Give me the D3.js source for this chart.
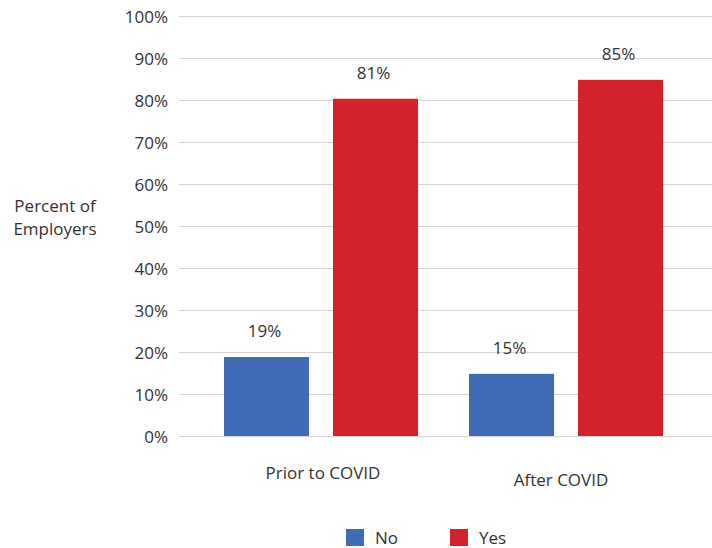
<!DOCTYPE html>
<html><head><meta charset="utf-8">
<script src="https://cdn.jsdelivr.net/npm/d3@7"></script>
<style>
body{margin:0;background:#fff;}
svg text{font-family:"Open Sans",sans-serif;fill:#333;}
</style></head>
<body><svg id="c" width="712" height="548"></svg>
<script>
const categories = ["Prior to COVID", "After COVID"];
const seriesNames = ["No", "Yes"];
const noValues = [18.8, 14.8];
const yesValues = [80.3, 84.8];
const noLabels = ["19%", "15%"];
const yesLabels = ["81%", "85%"];
const yTicks = [0,10,20,30,40,50,60,70,80,90,100];
const colors = ["#3F6CB4", "#D2232A"];

const svg = d3.select("#c");
const y = d3.scaleLinear().domain([0,100]).range([436,16]);
const x0 = d3.scaleBand().domain(categories).range([198.5,688.5]).paddingInner(0).paddingOuter(0);
const x1 = d3.scaleBand().domain(seriesNames).range([0, x0.bandwidth()]).paddingInner(0.22).paddingOuter(0.234);

// gridlines
svg.append("g").selectAll("line").data(yTicks).join("line")
  .attr("x1",179).attr("x2",712)
  .attr("y1",d=>y(d)+0.5).attr("y2",d=>y(d)+0.5)
  .attr("stroke","#d4d4d4").attr("stroke-width",1);

// y axis labels
const yAxis = d3.axisLeft(y).tickValues(yTicks).tickFormat(d=>d+"%").tickSize(0).tickPadding(0);
const ga = svg.append("g").attr("transform","translate(168,0)").call(yAxis);
ga.select(".domain").remove();
ga.selectAll("text").style("font-size","17px").style("font-family","'Open Sans',sans-serif").attr("fill","#333").attr("dy","0.36em");

// axis title
const t = svg.append("text").attr("text-anchor","middle").style("font-size","17px");
t.append("tspan").attr("x",55).attr("y",212).text("Percent of");
t.append("tspan").attr("x",55).attr("y",235).text("Employers");

const rows = categories.map((c,i)=>({c, vals:[{s:"No",v:noValues[i],l:noLabels[i]},{s:"Yes",v:yesValues[i],l:yesLabels[i]}]}));
const g = svg.append("g").selectAll("g").data(rows).join("g")
  .attr("transform",d=>`translate(${x0(d.c)},0)`);
g.selectAll("rect").data(d=>d.vals).join("rect")
  .attr("x",d=>x1(d.s)).attr("width",x1.bandwidth())
  .attr("y",d=>y(d.v)).attr("height",d=>y(0)-y(d.v))
  .attr("fill",(d,i)=>colors[i]);
g.selectAll("text.v").data(d=>d.vals).join("text").attr("class","v")
  .attr("x",d=>x1(d.s)+x1.bandwidth()/2-2).attr("y",d=>y(d.v)-20)
  .attr("text-anchor","middle").style("font-size","17px").text(d=>d.l);

// category labels
svg.append("g").selectAll("text").data(categories).join("text")
  .attr("x",(d,i)=>x0(d)+x0.bandwidth()/2 + (i===0?2:-5))
  .attr("y",(d,i)=>479+i*7)
  .attr("text-anchor","middle").style("font-size","17px").text(d=>d);

// legend
const lg = svg.append("g").selectAll("g").data(seriesNames).join("g")
  .attr("transform",(d,i)=>`translate(${346+i*104},529)`);
lg.append("rect").attr("width",18).attr("height",17).attr("fill",(d,i)=>colors[i]);
lg.append("text").attr("x",29).attr("y",15).style("font-size","17px").text(d=>d);
</script></body></html>
